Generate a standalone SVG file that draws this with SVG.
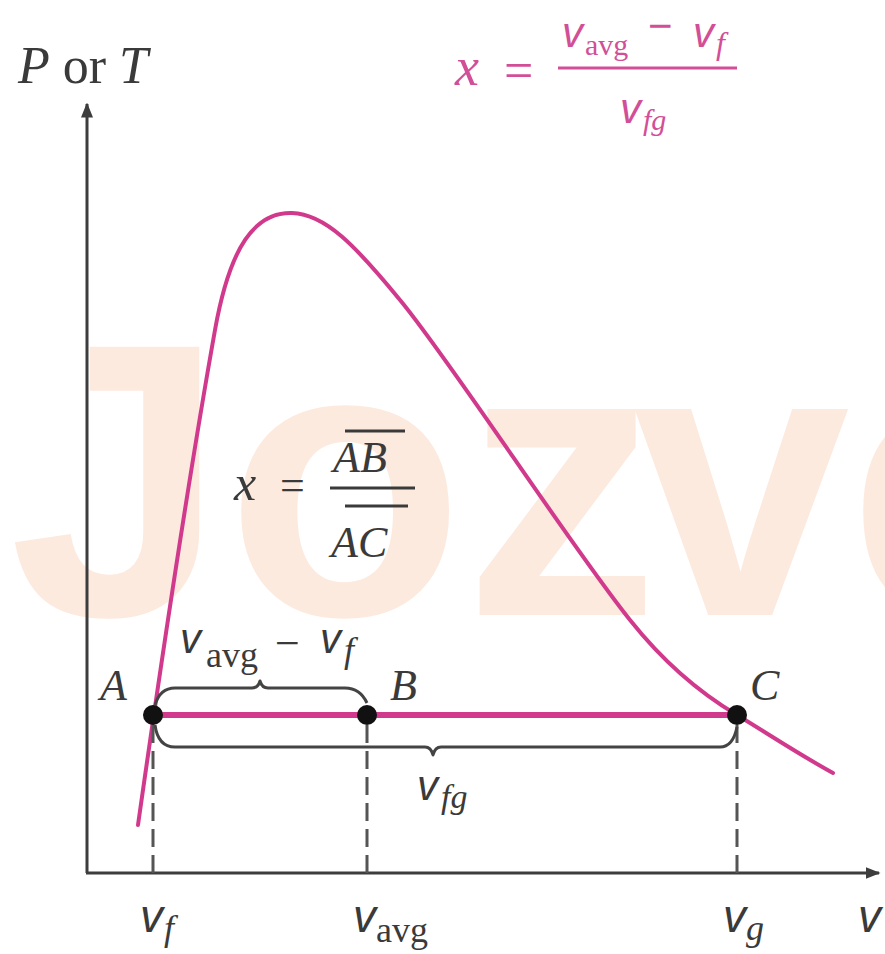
<svg xmlns="http://www.w3.org/2000/svg" width="885" height="954" viewBox="0 0 885 954">
<defs>
<marker id="arr" viewBox="0 0 10 10" refX="9" refY="5" markerWidth="5" markerHeight="5" orient="auto" markerUnits="strokeWidth">
<path d="M0,1 L10,5 L0,9 z" fill="#3d3d3d"/>
</marker>
<style>
.axis{stroke:#3d3d3d;stroke-width:3;fill:none}
.dash{stroke:#555;stroke-width:3;stroke-dasharray:18 8;fill:none}
.brace{stroke:#444;stroke-width:3;fill:none;stroke-linejoin:round}
.pink{stroke:#d13a8c;fill:none;stroke-linecap:round}
.dot{fill:#111}
.it{font-family:"Liberation Serif",serif;font-style:italic;fill:#3a3a3a}
.rm{font-family:"Liberation Serif",serif;fill:#3a3a3a}
.v{font-family:"Liberation Sans",sans-serif;font-style:italic;fill:#3a3a3a}
.pk{fill:#d24f98}
.wm{font-family:"Liberation Sans",sans-serif;font-weight:bold;font-size:390px;fill:#fdeadf}
</style>
</defs>
<rect width="885" height="954" fill="#ffffff"/>
<text class="wm" x="9 226 464 633 848" y="615">Jozve</text>

<g id="axes">
<line class="axis" x1="87" y1="873" x2="87" y2="104" marker-end="url(#arr)"/>
<line class="axis" x1="86" y1="873" x2="879" y2="873" marker-end="url(#arr)"/>
<text x="18" y="83" font-size="52"><tspan class="it">P</tspan><tspan class="rm"> or </tspan><tspan class="it">T</tspan></text>
<text class="v" x="858" y="932" font-size="46">v</text>
</g>

<g id="dome">
<path class="pink" stroke-width="4" d="M138,825 C160,670 190,470 215,330 C230,246 255,212 292,213 C325,214 355,245 400,300 C450,360 570,545 630,620 C665,664 700,693 737,715 C770,735 800,755 833,773"/>
</g>

<g id="connectors">
<line class="pink" stroke-width="6" x1="153" y1="715" x2="737" y2="715"/>
<line class="dash" x1="153" y1="725" x2="153" y2="873"/>
<line class="dash" x1="367" y1="725" x2="367" y2="873"/>
<line class="dash" x1="737" y1="725" x2="737" y2="873"/>
<path class="brace" d="M155,705 Q160,688 175,688 L252,688 Q258,688 260,681 Q262,688 268,688 L345,688 Q360,688 367,703"/>
<path class="brace" d="M155,725 Q158,747 175,747 L425,747 Q431,747 433,755 Q435,747 441,747 L720,747 Q733,747 737,727"/>
</g>

<g id="pointA">
<circle class="dot" cx="153" cy="715" r="10"/>
<text class="it" x="100" y="700" font-size="44">A</text>
</g>
<g id="pointB">
<circle class="dot" cx="367" cy="715" r="10"/>
<text class="it" x="390" y="700" font-size="44">B</text>
</g>
<g id="pointC">
<circle class="dot" cx="737" cy="715" r="10"/>
<text class="it" x="750" y="700" font-size="44">C</text>
</g>

<g id="label-diff">
<text class="v" x="180" y="653" font-size="42">v</text>
<text class="rm" x="206" y="667" font-size="36">avg</text>
<text class="rm" x="275" y="658" font-size="44">−</text>
<text class="v" x="320" y="653" font-size="42">v</text>
<text class="it" x="344" y="662" font-size="36">f</text>
</g>

<g id="label-vfg">
<text class="v" x="417" y="800" font-size="42">v</text>
<text class="it" x="441" y="808" font-size="34">fg</text>
</g>

<g id="formula-mid">
<text class="it" x="234" y="500" font-size="50">x</text>
<text class="rm" x="280" y="500" font-size="44">=</text>
<line x1="330" y1="488" x2="415" y2="488" stroke="#3a3a3a" stroke-width="3"/>
<line x1="345" y1="431" x2="405" y2="431" stroke="#3a3a3a" stroke-width="3"/>
<text class="it" x="333" y="472" font-size="44">AB</text>
<line x1="345" y1="506" x2="408" y2="506" stroke="#3a3a3a" stroke-width="3"/>
<text class="it" x="331" y="557" font-size="44">AC</text>
</g>

<g id="formula-top">
<text class="it pk" x="455" y="85" font-size="54">x</text>
<text class="rm pk" x="504" y="88" font-size="52">=</text>
<line x1="558" y1="68" x2="737" y2="68" stroke="#d24f98" stroke-width="3"/>
<text class="v pk" x="562" y="47" font-size="42">v</text>
<text class="rm pk" x="585" y="55" font-size="30">avg</text>
<text class="pk" x="648" y="40" font-size="42" font-family="Liberation Sans, sans-serif">−</text>
<text class="v pk" x="693" y="47" font-size="42">v</text>
<text class="it pk" x="716" y="54" font-size="32">f</text>
<text class="v pk" x="620" y="123" font-size="42">v</text>
<text class="it pk" x="643" y="130" font-size="30">fg</text>
</g>

<g id="ticks">
<text class="v" x="140" y="932" font-size="46">v</text>
<text class="it" x="164" y="940" font-size="36">f</text>
<text class="v" x="353" y="932" font-size="46">v</text>
<text class="rm" x="376" y="942" font-size="36">avg</text>
<text class="v" x="723" y="932" font-size="46">v</text>
<text class="it" x="746" y="940" font-size="36">g</text>
</g>
</svg>
